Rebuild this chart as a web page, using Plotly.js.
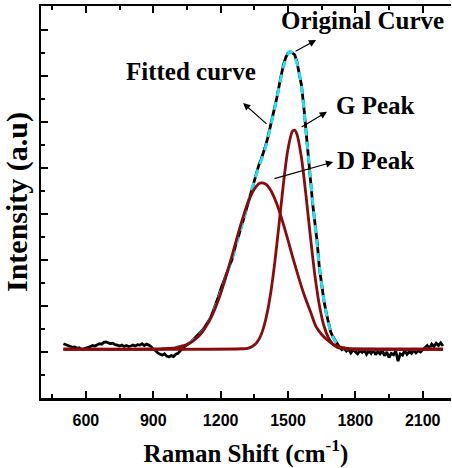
<!DOCTYPE html>
<html>
<head>
<meta charset="utf-8">
<script src="https://cdn.plot.ly/plotly-3.0.1.min.js"></script>
<style>html,body{margin:0;padding:0;background:#fff;}#chart{width:452px;height:468px;}</style>
</head>
<body>
<div id="chart"></div>
<script>
// Original (measured) spectrum, Raman shift in cm^-1
var origX = [500,510,520,530,540,550,560,570,580,590,600,610,620,630,640,650,660,670,680,690,
700,710,720,730,740,750,760,770,780,790,800,810,820,830,840,850,860,870,880,890,
900,910,920,930,940,950,960,970,980,990,1000,1010,1020,1030,1040,1050,1060,1070,1080,1090,
1100,1110,1120,1130,1140,1150,1160,1170,1180,1190,1200,1210,1220,1230,1240,1250,1260,1270,1280,1290,
1300,1310,1320,1330,1340,1350,1360,1370,1380,1390,1400,1410,1420,1430,1440,1450,1460,1470,1480,1490,
1500,1510,1520,1530,1540,1550,1560,1570,1580,1590,1600,1610,1620,1630,1640,1650,1660,1670,1680,1690,
1700,1710,1720,1730,1740,1750,1760,1770,1780,1790,1800,1810,1820,1830,1840,1850,1860,1870,1880,1890,
1900,1910,1920,1930,1940,1950,1960,1970,1980,1990,2000,2010,2020,2030,2040,2050,2060,2070,2080,2090,
2100,2110,2120,2130,2140,2150,2160,2170,2180,2190];
var origY = [0.18,0.16,0.13,0.12,0.10,0.11,0.08,0.09,0.06,0.07,0.08,0.10,0.12,0.14,0.13,0.16,0.18,0.17,0.21,0.22,
0.20,0.18,0.19,0.16,0.15,0.13,0.15,0.12,0.14,0.12,0.13,0.15,0.13,0.16,0.15,0.18,0.14,0.17,0.15,0.12,
0.06,0.03,-0.02,-0.05,-0.07,-0.04,-0.09,-0.11,-0.08,-0.10,-0.05,-0.03,0.03,0.08,0.12,0.15,0.19,0.23,0.28,0.31,
0.36,0.42,0.48,0.55,0.62,0.70,0.80,0.92,1.06,1.20,1.36,1.50,1.63,1.76,1.88,2.00,2.20,2.38,2.52,2.67,
2.84,3.02,3.20,3.37,3.56,3.74,3.92,4.06,4.18,4.32,4.48,4.66,4.90,5.12,5.30,5.52,5.80,6.02,6.24,6.40,
6.50,6.53,6.50,6.46,6.30,6.05,5.80,5.35,4.78,4.30,3.78,3.22,2.80,2.38,1.82,1.45,1.12,0.86,0.62,0.44,
0.33,0.24,0.18,0.10,0.05,0.08,0.02,0.06,-0.02,0.05,0.01,-0.04,0.03,-0.01,0.04,-0.05,0.02,-0.03,0.05,-0.06,
0.01,-0.04,0.03,-0.08,0.00,-0.12,-0.03,-0.06,0.02,-0.20,-0.04,-0.07,0.03,-0.05,0.01,-0.03,0.04,-0.02,0.03,0.00,
0.05,0.10,0.14,0.08,0.17,0.12,0.19,0.14,0.20,0.13];

// Fitted (cumulative) curve
var fitX = [500,900,1000,1050,1100,1150,1200,1250,1300,1350,1400,1420,1440,1460,1480,1500,1510,1520,1540,1560,
1580,1600,1620,1640,1660,1680,1700,1720,1740,1760,1800,2190];
var fitY = [0.06,0.06,0.10,0.17,0.34,0.68,1.30,2.02,2.84,3.72,4.45,4.85,5.28,5.75,6.20,6.48,6.53,6.50,6.28,5.78,
4.80,3.78,2.78,1.85,1.12,0.62,0.32,0.17,0.10,0.07,0.06,0.06];

// D peak component
var dX = [500,950,975,1000,1025,1050,1075,1100,1125,1150,1175,1200,1225,1250,1275,1300,1325,1350,1375,1400,
1425,1450,1475,1500,1525,1550,1575,1600,1625,1650,1675,1700,1725,1750,1775,1800,1850,2190];
var dY = [0.06,0.07,0.08,0.09,0.12,0.16,0.23,0.33,0.48,0.68,0.94,1.27,1.66,2.08,2.52,2.93,3.29,3.54,3.67,3.65,
3.50,3.22,2.85,2.43,1.99,1.58,1.20,0.88,0.55,0.38,0.26,0.17,0.12,0.09,0.07,0.06,0.06,0.06];

// G peak component
var gX = [500,1300,1320,1340,1360,1380,1400,1420,1440,1460,1480,1500,1520,1530,1540,1560,1580,1600,1620,1640,
1660,1680,1700,1720,1740,1760,2190];
var gY = [0.06,0.07,0.08,0.12,0.20,0.37,0.69,1.19,1.90,2.77,3.67,4.41,4.80,4.82,4.73,4.22,3.41,2.50,1.66,1.01,
0.57,0.31,0.17,0.10,0.08,0.07,0.06];

var xTickVals = [600,900,1200,1500,1800,2100];
var xTickText = ['600','900','1200','1500','1800','2100'];

var serif = 'Liberation Serif, Times New Roman, serif';
var sans = 'Liberation Sans, Arial, sans-serif';

var traces = [
  {x: origX, y: origY, type: 'scatter', mode: 'lines', name: 'Original Curve',
   line: {color: '#000000', width: 2.8}},
  {x: fitX, y: fitY, type: 'scatter', mode: 'lines', name: 'Fitted curve',
   line: {color: '#22e0f0', width: 3, dash: '8px,6px', shape: 'spline', smoothing: 0.8}},
  {x: dX, y: dY, type: 'scatter', mode: 'lines', name: 'D Peak',
   line: {color: '#8b0a0a', width: 2.8, shape: 'spline', smoothing: 0.8}},
  {x: gX, y: gY, type: 'scatter', mode: 'lines', name: 'G Peak',
   line: {color: '#8b0a0a', width: 2.8, shape: 'spline', smoothing: 0.8}}
];

function arrow(x0, y0, x1, y1) {
  return {x: x1, y: y1, ax: x0, ay: y0, xref: 'x', yref: 'y', axref: 'x', ayref: 'y',
    text: '', showarrow: true, arrowhead: 2, arrowsize: 1.2, arrowwidth: 1.2, arrowcolor: '#000'};
}
function label(txt, x, y) {
  return {x: x, y: y, xref: 'x', yref: 'y', text: txt, showarrow: false,
    xanchor: 'center', yanchor: 'middle',
    font: {family: serif, size: 25, color: '#000', weight: 'bold'}};
}

var layout = {
  width: 452, height: 468,
  margin: {l: 41, r: 1, t: 6, b: 70},
  paper_bgcolor: '#fff', plot_bgcolor: '#fff',
  showlegend: false,
  xaxis: {
    range: [400, 2226], showgrid: false, zeroline: false,
    showline: true, linecolor: '#000', linewidth: 2.5, mirror: 'ticks',
    ticks: 'inside', ticklen: 7, tickwidth: 2, tickcolor: '#000',
    tickvals: xTickVals, ticktext: xTickText, ticklabelstandoff: 6,
    minor: {dtick: 150, tick0: 0, ticks: 'inside', ticklen: 4, tickwidth: 2, tickcolor: '#000'},
    tickfont: {family: sans, size: 16, color: '#000', weight: 'bold'},
    title: {text: 'Raman Shift (cm<sup>-1</sup>)', standoff: 22,
      font: {family: serif, size: 25, color: '#000', weight: 'bold'}}
  },
  yaxis: {
    range: [-1.0, 7.52], showgrid: false, zeroline: false,
    showline: true, linecolor: '#000', linewidth: 2.5,
    ticks: 'inside', ticklen: 7, tickwidth: 2, tickcolor: '#000',
    dtick: 1, tick0: 0, showticklabels: false,
    minor: {dtick: 0.5, ticks: 'inside', ticklen: 4, tickwidth: 2, tickcolor: '#000'},
    title: {text: 'Intensity (a.u)\u00a0\u00a0\u00a0\u00a0\u00a0', standoff: 4,
      font: {family: serif, size: 30, color: '#000', weight: 'bold'}}
  },
  annotations: [
    label('Original Curve', 1830, 7.2),
    label('Fitted curve', 1068, 6.09),
    label('G Peak', 1888, 5.35),
    label('D Peak', 1888, 4.17),
    arrow(1527, 6.52, 1625, 6.78),
    arrow(1411, 4.93, 1300, 5.41),
    arrow(1554, 4.87, 1674, 5.22),
    arrow(1433, 3.76, 1701, 4.13)
  ]
};

Plotly.newPlot('chart', traces, layout, {displayModeBar: false, staticPlot: true});
</script>
</body>
</html>
